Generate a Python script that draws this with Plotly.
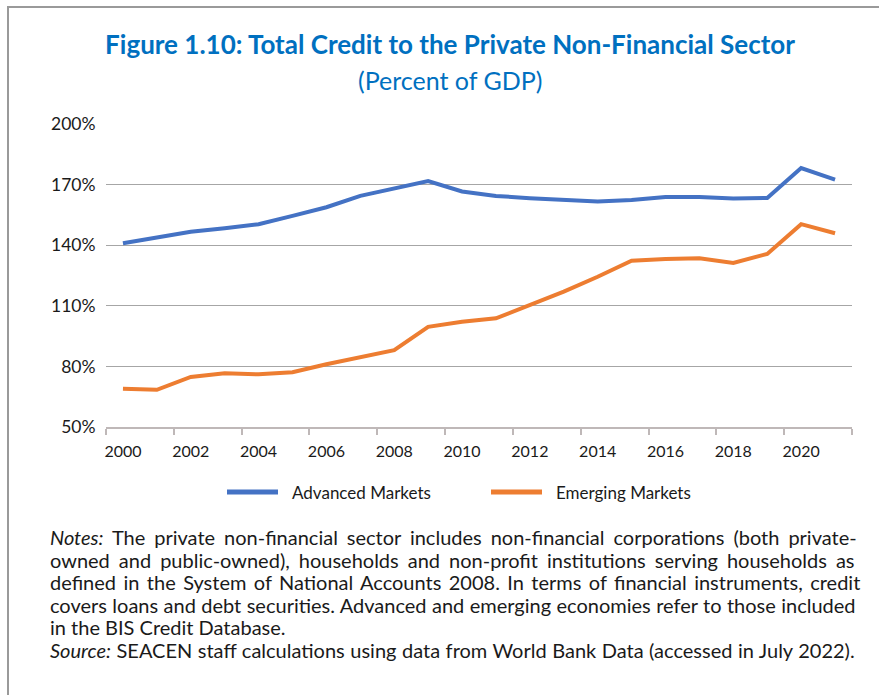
import plotly.graph_objects as go

# Total credit to the private non-financial sector, percent of GDP
years = list(range(2000, 2022))
advanced = [141.0, 143.8, 146.7, 148.4, 150.4, 154.5, 158.8, 164.4, 168.1, 171.7,
            166.6, 164.4, 163.3, 162.3, 161.6, 162.4, 163.8, 163.8, 163.1, 163.4,
            178.2, 172.5]
emerging = [68.9, 68.4, 74.8, 76.6, 76.1, 77.1, 81.1, 84.6, 88.0, 99.6,
            102.1, 103.8, 110.4, 117.0, 124.4, 132.3, 133.2, 133.5, 131.2, 135.7,
            150.4, 145.9]
series_names = ["Advanced Markets", "Emerging Markets"]
series_colors = ["#4472C4", "#ED7D31"]
y_ticks = [50, 80, 110, 140, 170, 200]
y_tick_labels = [f"{v}%" for v in y_ticks]
x_label_years = list(range(2000, 2021, 2))

W, H = 879, 695
L, R, T, B = 106, 852, 124, 427  # plot area in pixels


def px(x):
    return (x - L) / (R - L)


def py(y):
    return (B - y) / (B - T)


FONT = "Lato"
TEXT = "#1a1a1a"
BLUE_TITLE = "#0070C0"

fig = go.Figure()
for name, vals, col in zip(series_names, [advanced, emerging], series_colors):
    fig.add_trace(go.Scatter(x=years, y=vals, name=name, mode="lines",
                             line=dict(color=col, width=4), showlegend=False))

fig.update_layout(
    width=W, height=H, autosize=False,
    margin=dict(l=L, r=W - R, t=T, b=H - B, pad=0),
    paper_bgcolor="white", plot_bgcolor="white",
    font=dict(family=FONT, color=TEXT),
    title=dict(text="<b>Figure 1.10: Total Credit to the Private Non-Financial Sector</b>",
               x=450 / W, xanchor="center", xref="container",
               y=1 - 45 / H, yanchor="middle", yref="container",
               font=dict(family=FONT, size=26, color=BLUE_TITLE)),
    xaxis=dict(range=[1999.5, 2021.5], tickmode="array", tickvals=x_label_years,
               ticks="outside", ticklen=9, tickcolor="rgba(0,0,0,0)",
               showgrid=False, zeroline=False, showline=True,
               linecolor="#BFB8B8", linewidth=1.5,
               tickfont=dict(size=16, color=TEXT),
               minor=dict(tickmode="linear", tick0=1999.5, dtick=2, ticks="outside",
                          ticklen=6, tickcolor="#BFB8B8", tickwidth=1.5, showgrid=False)),
    yaxis=dict(range=[50, 200], tickmode="array", tickvals=y_ticks, ticktext=y_tick_labels,
               ticks="outside", ticklen=6, tickcolor="rgba(0,0,0,0)",
               showgrid=True, gridcolor="#A6A6A6", gridwidth=1.3,
               zeroline=False, showline=False,
               tickfont=dict(size=17.5, color=TEXT)),
)

# subtitle
fig.add_annotation(text="(Percent of GDP)", xref="paper", yref="paper",
                   x=px(450), y=py(80), xanchor="center", yanchor="middle", showarrow=False,
                   font=dict(family=FONT, size=25, color=BLUE_TITLE))

# legend drawn below the axis
legend_items = [(227, 278, 290), (491, 542, 554)]
for (x0, x1, xt), name, col in zip(legend_items, series_names, series_colors):
    fig.add_shape(type="line", xref="paper", yref="paper",
                  x0=px(x0), x1=px(x1), y0=py(492), y1=py(492),
                  line=dict(color=col, width=5))
    fig.add_annotation(text=name, xref="paper", yref="paper", x=px(xt), y=py(492),
                       xanchor="left", yanchor="middle", showarrow=False,
                       font=dict(family=FONT, size=17, color=TEXT))

# notes below the chart; word spacing spreads each full line to the right margin
note_lines = [
    ("<i>Notes:</i> The private non-financial sector includes non-financial corporations (both private-", 3.85),
    ("owned and public-owned), households and non-profit institutions serving households as", 3.9),
    ("defined in the System of National Accounts 2008. In terms of financial instruments, credit", 2.3),
    ("covers loans and debt securities. Advanced and emerging economies refer to those included", 0.3),
    ("in the BIS Credit Database.", 0),
    ("<i>Source:</i> SEACEN staff calculations using data from World Bank Data (accessed in July 2022).", 0.4),
]
note_y0, note_dy = 537, 22.6
for i, (line, ws) in enumerate(note_lines):
    fig.add_annotation(text=f'<span style="word-spacing:{ws}px">{line}</span>',
                       xref="paper", yref="paper", x=px(48),
                       y=py(note_y0 + i * note_dy), xanchor="left", yanchor="middle",
                       showarrow=False, align="left",
                       font=dict(family=FONT, size=20, color=TEXT))

# frame around the figure (top and left edges)
fig.add_shape(type="line", xref="paper", yref="paper", x0=px(8), x1=px(W + 2),
              y0=py(7), y1=py(7), line=dict(color="#9A9A9A", width=2))
fig.add_shape(type="line", xref="paper", yref="paper", x0=px(8), x1=px(8),
              y0=py(6), y1=py(H + 2), line=dict(color="#9A9A9A", width=2))

fig.write_html("out.html")
